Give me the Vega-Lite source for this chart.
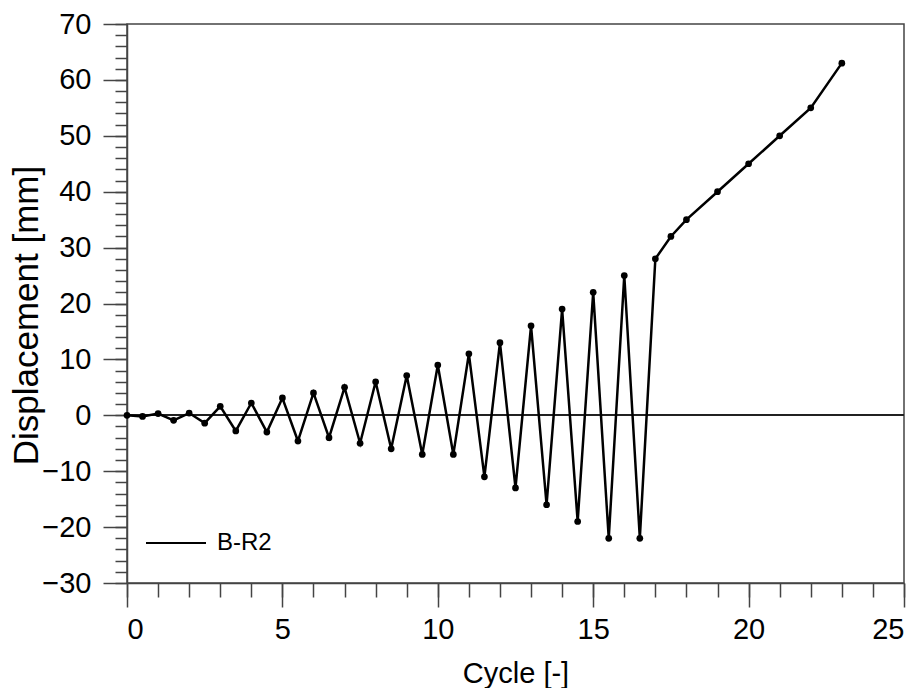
{
  "$schema": "https://vega.github.io/schema/vega-lite/v6.json",
  "width": 777,
  "height": 559,
  "autosize": {"type": "none"},
  "padding": {"left": 127, "top": 24, "right": 18, "bottom": 105},
  "background": "white",
  "config": {
    "view": {"stroke": "#444", "strokeWidth": 1.5},
    "font": "Liberation Sans",
    "axis": {"grid": false, "domainColor": "#444", "domainWidth": 1.5, "tickColor": "#444", "tickWidth": 1.5, "labelColor": "black", "titleColor": "black", "labelFont": "Liberation Sans", "titleFont": "Liberation Sans", "titleFontWeight": "normal"}
  },
  "data": {
    "values": [
      {"cycle": 0, "disp": 0, "series": "B-R2"},
      {"cycle": 0.5, "disp": -0.2, "series": "B-R2"},
      {"cycle": 1, "disp": 0.3, "series": "B-R2"},
      {"cycle": 1.5, "disp": -0.9, "series": "B-R2"},
      {"cycle": 2, "disp": 0.4, "series": "B-R2"},
      {"cycle": 2.5, "disp": -1.4, "series": "B-R2"},
      {"cycle": 3, "disp": 1.6, "series": "B-R2"},
      {"cycle": 3.5, "disp": -2.8, "series": "B-R2"},
      {"cycle": 4, "disp": 2.2, "series": "B-R2"},
      {"cycle": 4.5, "disp": -3.0, "series": "B-R2"},
      {"cycle": 5, "disp": 3.1, "series": "B-R2"},
      {"cycle": 5.5, "disp": -4.6, "series": "B-R2"},
      {"cycle": 6, "disp": 4.0, "series": "B-R2"},
      {"cycle": 6.5, "disp": -4.0, "series": "B-R2"},
      {"cycle": 7, "disp": 5.0, "series": "B-R2"},
      {"cycle": 7.5, "disp": -5.0, "series": "B-R2"},
      {"cycle": 8, "disp": 6.0, "series": "B-R2"},
      {"cycle": 8.5, "disp": -6.0, "series": "B-R2"},
      {"cycle": 9, "disp": 7.1, "series": "B-R2"},
      {"cycle": 9.5, "disp": -7.0, "series": "B-R2"},
      {"cycle": 10, "disp": 9.0, "series": "B-R2"},
      {"cycle": 10.5, "disp": -7.0, "series": "B-R2"},
      {"cycle": 11, "disp": 11.0, "series": "B-R2"},
      {"cycle": 11.5, "disp": -11.0, "series": "B-R2"},
      {"cycle": 12, "disp": 13.0, "series": "B-R2"},
      {"cycle": 12.5, "disp": -13.0, "series": "B-R2"},
      {"cycle": 13, "disp": 16.0, "series": "B-R2"},
      {"cycle": 13.5, "disp": -16.0, "series": "B-R2"},
      {"cycle": 14, "disp": 19.0, "series": "B-R2"},
      {"cycle": 14.5, "disp": -19.0, "series": "B-R2"},
      {"cycle": 15, "disp": 22.0, "series": "B-R2"},
      {"cycle": 15.5, "disp": -22.0, "series": "B-R2"},
      {"cycle": 16, "disp": 25.0, "series": "B-R2"},
      {"cycle": 16.5, "disp": -22.0, "series": "B-R2"},
      {"cycle": 17, "disp": 28.0, "series": "B-R2"},
      {"cycle": 17.5, "disp": 32.0, "series": "B-R2"},
      {"cycle": 18, "disp": 35.0, "series": "B-R2"},
      {"cycle": 19, "disp": 40.0, "series": "B-R2"},
      {"cycle": 20, "disp": 45.0, "series": "B-R2"},
      {"cycle": 21, "disp": 50.0, "series": "B-R2"},
      {"cycle": 22, "disp": 55.0, "series": "B-R2"},
      {"cycle": 23, "disp": 63.0, "series": "B-R2"}
    ]
  },
  "resolve": {"axis": {"x": "independent", "y": "independent"}},
  "layer": [
    {
      "mark": {"type": "rule", "color": "#222", "strokeWidth": 1.2},
      "encoding": {
        "y": {"datum": 0, "type": "quantitative", "scale": {"domain": [-30, 70], "nice": false, "zero": false}, "axis": null}
      }
    },
    {
      "mark": {"type": "point", "opacity": 0},
      "encoding": {
        "x": {"field": "cycle", "type": "quantitative", "scale": {"domain": [0, 25], "nice": false, "zero": false},
          "axis": {"orient": "bottom", "values": [0,1,2,3,4,5,6,7,8,9,10,11,12,13,14,15,16,17,18,19,20,21,22,23,24,25], "labels": false, "domain": false, "tickSize": 14, "title": null}},
        "y": {"field": "disp", "type": "quantitative",
          "axis": {"orient": "left", "values": [-30,-28,-26,-24,-22,-20,-18,-16,-14,-12,-10,-8,-6,-4,-2,0,2,4,6,8,10,12,14,16,18,20,22,24,26,28,30,32,34,36,38,40,42,44,46,48,50,52,54,56,58,60,62,64,66,68,70], "labels": false, "domain": false, "tickSize": 12, "title": null}}
      }
    },
    {
      "mark": {"type": "line", "strokeWidth": 2.5},
      "encoding": {
        "x": {"field": "cycle", "type": "quantitative",
          "axis": {"orient": "bottom", "values": [0, 5, 10, 15, 20, 25], "tickSize": 24, "labelFontSize": 29, "labelPadding": 8, "title": "Cycle [-]", "titleFontSize": 29, "titlePadding": 15}},
        "y": {"field": "disp", "type": "quantitative",
          "axis": {"orient": "left", "values": [-30, -20, -10, 0, 10, 20, 30, 40, 50, 60, 70], "tickSize": 24, "labelFontSize": 29, "labelPadding": 12, "title": "Displacement [mm]", "titleFontSize": 35, "titlePadding": -3, "titleY": 291}},
        "color": {"field": "series", "type": "nominal", "scale": {"range": ["black"]},
          "legend": {"orient": "none", "legendX": 18, "legendY": 488, "title": null, "symbolType": "stroke", "symbolSize": 3600, "symbolStrokeWidth": 2, "symbolStrokeColor": "black", "labelFontSize": 24, "labelFont": "Liberation Sans", "labelOffset": 10, "padding": 0}}
      }
    },
    {
      "mark": {"type": "circle", "size": 45, "color": "black", "opacity": 1},
      "encoding": {
        "x": {"field": "cycle", "type": "quantitative", "axis": null},
        "y": {"field": "disp", "type": "quantitative", "axis": null}
      }
    }
  ]
}
